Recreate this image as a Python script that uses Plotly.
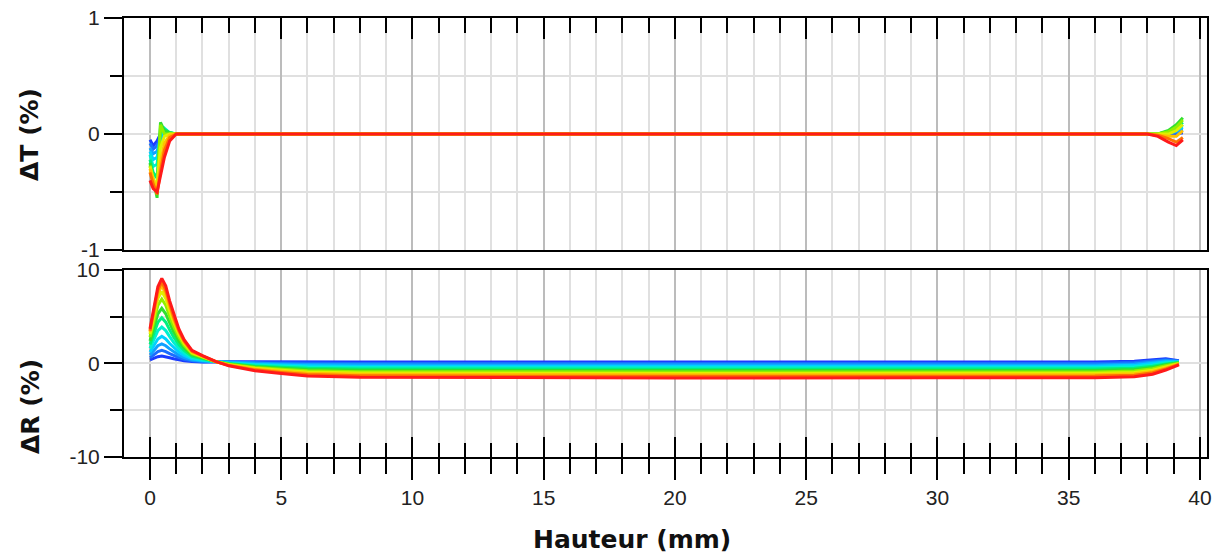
import plotly.graph_objects as go

# ---------------- data ----------------
# Top panel: delta T (%) vs height (mm)
x_T = [0, 0.12, 0.27, 0.4, 0.55, 0.75, 1.0, 2, 10, 20, 30, 38.0, 38.4, 38.8, 39.1, 39.35]
T01 = [-0.05, -0.10, -0.06, 0.00, 0.00, 0.00, 0, 0, 0, 0, 0, 0, 0.00, 0.00, 0.00, 0.01]
T02 = [-0.08, -0.13, -0.10, -0.02, 0.01, 0.00, 0, 0, 0, 0, 0, 0, 0.00, 0.00, 0.01, 0.02]
T03 = [-0.12, -0.17, -0.15, -0.04, 0.02, 0.00, 0, 0, 0, 0, 0, 0, 0.00, 0.01, 0.02, 0.04]
T04 = [-0.15, -0.22, -0.20, -0.05, 0.03, 0.01, 0, 0, 0, 0, 0, 0, 0.00, 0.01, 0.03, 0.06]
T05 = [-0.18, -0.28, -0.26, 0.00, 0.05, 0.01, 0, 0, 0, 0, 0, 0, 0.00, 0.02, 0.04, 0.08]
T06 = [-0.22, -0.33, -0.38, 0.05, 0.04, 0.01, 0, 0, 0, 0, 0, 0, 0.00, 0.02, 0.05, 0.10]
T07 = [-0.25, -0.38, -0.55, 0.10, 0.03, 0.01, 0, 0, 0, 0, 0, 0, 0.00, 0.03, 0.08, 0.14]
T08 = [-0.27, -0.40, -0.52, 0.08, 0.00, 0.00, 0, 0, 0, 0, 0, 0, 0.00, 0.02, 0.06, 0.12]
T09 = [-0.28, -0.38, -0.45, -0.12, -0.02, 0.00, 0, 0, 0, 0, 0, 0, 0.00, 0.00, 0.03, 0.08]
T10 = [-0.30, -0.40, -0.48, -0.25, -0.08, -0.01, 0, 0, 0, 0, 0, 0, -0.01, -0.02, -0.02, 0.03]
T11 = [-0.33, -0.43, -0.52, -0.32, -0.14, -0.03, 0, 0, 0, 0, 0, 0, -0.01, -0.04, -0.07, -0.03]
T12 = [-0.40, -0.47, -0.50, -0.36, -0.20, -0.06, 0, 0, 0, 0, 0, 0, -0.02, -0.07, -0.10, -0.05]

# Bottom panel: delta R (%) vs height (mm)
x_R = [0, 0.15, 0.3, 0.45, 0.6, 0.75, 0.9, 1.1, 1.3, 1.6, 2.0,
       2.5, 3, 4, 5, 6, 8, 12, 20, 30, 36,
       37.5, 38.2, 38.7, 39.2]
R01 = [0.38, 0.55, 0.73, 0.8, 0.73, 0.61, 0.5, 0.38, 0.29, 0.2, 0.16,
       0.2, 0.19, 0.17, 0.16, 0.16, 0.15, 0.15, 0.16, 0.15, 0.15,
       0.25, 0.4, 0.5, 0.3]
R02 = [0.62, 0.93, 1.27, 1.4, 1.27, 1.05, 0.84, 0.62, 0.45, 0.28, 0.2,
       0.2, 0.15, 0.09, 0.05, 0.02, 0.01, 0.0, 0.01, 0.0, 0.0,
       0.1, 0.26, 0.39, 0.26]
R03 = [0.9, 1.38, 1.9, 2.1, 1.9, 1.56, 1.24, 0.9, 0.64, 0.38, 0.26,
       0.2, 0.11, 0.0, -0.06, -0.11, -0.14, -0.15, -0.14, -0.15, -0.15,
       -0.05, 0.12, 0.29, 0.22]
R04 = [1.22, 1.89, 2.62, 2.9, 2.62, 2.14, 1.7, 1.22, 0.86, 0.49, 0.32,
       0.2, 0.07, -0.09, -0.17, -0.25, -0.29, -0.3, -0.3, -0.31, -0.3,
       -0.2, -0.02, 0.18, 0.18]
R05 = [1.62, 2.53, 3.52, 3.9, 3.52, 2.87, 2.27, 1.62, 1.13, 0.63, 0.4,
       0.2, 0.03, -0.17, -0.28, -0.38, -0.43, -0.45, -0.46, -0.45, -0.45,
       -0.35, -0.16, 0.07, 0.14]
R06 = [2.02, 3.17, 4.42, 4.9, 4.42, 3.6, 2.84, 2.02, 1.4, 0.77, 0.48,
       0.2, -0.01, -0.26, -0.39, -0.51, -0.58, -0.6, -0.61, -0.6, -0.6,
       -0.5, -0.3, -0.04, 0.1]
R07 = [2.42, 3.81, 5.32, 5.9, 5.32, 4.33, 3.41, 2.42, 1.67, 0.91, 0.56,
       0.2, -0.05, -0.34, -0.5, -0.65, -0.72, -0.75, -0.76, -0.75, -0.75,
       -0.65, -0.43, -0.14, 0.07]
R08 = [2.82, 4.45, 6.22, 6.9, 6.22, 5.06, 3.98, 2.82, 1.94, 1.05, 0.64,
       0.2, -0.09, -0.43, -0.61, -0.78, -0.87, -0.9, -0.91, -0.9, -0.9,
       -0.8, -0.57, -0.25, 0.03]
R09 = [3.14, 4.96, 6.94, 7.7, 6.94, 5.65, 4.43, 3.14, 2.15, 1.16, 0.71,
       0.2, -0.13, -0.51, -0.73, -0.91, -1.01, -1.05, -1.06, -1.05, -1.05,
       -0.95, -0.71, -0.36, -0.01]
R10 = [3.38, 5.35, 7.48, 8.3, 7.48, 6.09, 4.77, 3.38, 2.31, 1.25, 0.76,
       0.2, -0.16, -0.6, -0.84, -1.05, -1.16, -1.2, -1.21, -1.2, -1.2,
       -1.1, -0.85, -0.47, -0.05]
R11 = [3.5, 5.6, 7.85, 8.7, 7.85, 6.4, 5.0, 3.5, 2.4, 1.3, 0.8,
       0.2, -0.2, -0.68, -0.95, -1.18, -1.3, -1.35, -1.36, -1.35, -1.35,
       -1.25, -0.99, -0.57, -0.09]
R12 = [3.7, 5.8, 8.2, 9.1, 8.3, 6.7, 5.3, 3.7, 2.55, 1.4, 0.85,
       0.22, -0.25, -0.78, -1.07, -1.33, -1.47, -1.52, -1.55, -1.53, -1.52,
       -1.42, -1.15, -0.7, -0.15]

T_curves = [T01, T02, T03, T04, T05, T06, T07, T08, T09, T10, T11, T12]
R_curves = [R01, R02, R03, R04, R05, R06, R07, R08, R09, R10, R11, R12]

curve_colors = ['#1a3cff', '#1a6eff', '#10a0ff', '#00d0ff', '#00f0d0', '#00f080',
                '#30e030', '#90f000', '#e0f000', '#ffc000', '#ff7000', '#ff1a1a']

y_T_ticks = [-1, 0, 1]
y_T_labels = ['-1', '0', '1']
y_R_ticks = [-10, 0, 10]
y_R_labels = ['-10', '0', '10']

# ---------------- figure ----------------
fig = go.Figure()
for ys, c in zip(T_curves, curve_colors):
    fig.add_trace(go.Scatter(x=x_T, y=ys, mode='lines', line=dict(color=c, width=3),
                             xaxis='x', yaxis='y', showlegend=False, hoverinfo='skip'))
for ys, c in zip(R_curves, curve_colors):
    fig.add_trace(go.Scatter(x=x_R, y=ys, mode='lines', line=dict(color=c, width=3),
                             xaxis='x2', yaxis='y2', showlegend=False, hoverinfo='skip'))
# empty trace to host the overlaid tick axis
fig.add_trace(go.Scatter(x=[], y=[], xaxis='x3', yaxis='y2', showlegend=False, hoverinfo='skip'))

XR = [-0.99, 40.27]
grid_major = '#bcbcbc'
grid_minor = '#e0e0e0'
tickfont = dict(family='Liberation Sans, Arial, sans-serif', size=21, color='#222222')
title_font = dict(family='DejaVu Sans, Verdana, sans-serif', size=25, color='#111111')

common_line = dict(showline=True, linecolor='black', linewidth=2, mirror=True,
                   zeroline=False, automargin=False)

fig.update_layout(
    template='none',
    width=1213, height=553,
    margin=dict(l=124, r=6, t=18, b=96, autoexpand=False),
    paper_bgcolor='white', plot_bgcolor='white', showlegend=False,
    xaxis=dict(domain=[0, 1], anchor='y', side='top', range=XR,
               tickmode='linear', tick0=0, dtick=5,
               ticks='inside', ticklen=21, tickwidth=2, tickcolor='black',
               showticklabels=False, showgrid=True, gridcolor=grid_major, gridwidth=1.5,
               minor=dict(tick0=0, dtick=1, ticks='inside', ticklen=15, tickwidth=2,
                          tickcolor='black', showgrid=True, gridcolor=grid_minor, gridwidth=1.5),
               **common_line),
    yaxis=dict(domain=[0.4715, 1], anchor='x', range=[-1, 1],
               tickmode='array', tickvals=y_T_ticks, ticktext=y_T_labels,
               ticks='outside', ticklen=18, tickwidth=2, tickcolor='black', tickfont=tickfont,
               showgrid=True, gridcolor=grid_minor, gridwidth=1.5,
               minor=dict(tick0=0, dtick=0.5, ticks='outside', ticklen=12, tickwidth=2,
                          tickcolor='black', showgrid=True, gridcolor=grid_minor, gridwidth=1.5),
               **common_line),
    xaxis2=dict(domain=[0, 1], anchor='y2', side='bottom', range=XR,
                tickmode='linear', tick0=0, dtick=5,
                ticks='outside', ticklen=21, tickwidth=2, tickcolor='black', tickfont=tickfont,
                showgrid=True, gridcolor=grid_major, gridwidth=1.5,
                minor=dict(tick0=0, dtick=1, ticks='outside', ticklen=15, tickwidth=2,
                           tickcolor='black', showgrid=True, gridcolor=grid_minor, gridwidth=1.5),
                **common_line),
    xaxis3=dict(overlaying='x2', anchor='y2', side='bottom', range=XR,
                tickmode='linear', tick0=0, dtick=5, automargin=False,
                ticks='inside', ticklen=20, tickwidth=2, tickcolor='black',
                showticklabels=False, showgrid=False, showline=False, zeroline=False,
                minor=dict(tick0=0, dtick=1, ticks='inside', ticklen=14, tickwidth=2,
                           tickcolor='black', showgrid=False)),
    yaxis2=dict(domain=[0, 0.426], anchor='x2', range=[-10, 10],
                tickmode='array', tickvals=y_R_ticks, ticktext=y_R_labels,
                ticks='outside', ticklen=18, tickwidth=2, tickcolor='black', tickfont=tickfont,
                showgrid=True, gridcolor=grid_minor, gridwidth=1.5,
                minor=dict(tick0=0, dtick=5, ticks='outside', ticklen=12, tickwidth=2,
                           tickcolor='black', showgrid=True, gridcolor=grid_minor, gridwidth=1.5),
                **common_line),
    annotations=[
        dict(text='<b>ΔT (%)</b>', xref='paper', yref='paper', x=-0.0868, y=0.7358,
             xanchor='center', yanchor='middle', textangle=-90, showarrow=False, font=title_font),
        dict(text='<b>ΔR (%)</b>', xref='paper', yref='paper', x=-0.0868, y=0.116,
             xanchor='center', yanchor='middle', textangle=-90, showarrow=False, font=title_font),
        dict(text='<b>Hauteur (mm)</b>', xref='paper', yref='paper', x=0.469, y=-0.187,
             xanchor='center', yanchor='middle', showarrow=False, font=title_font),
    ],
)

fig.write_html("out.html", config={'displayModeBar': False},
               post_script="document.body.style.margin='0px';document.body.style.overflow='hidden';")
